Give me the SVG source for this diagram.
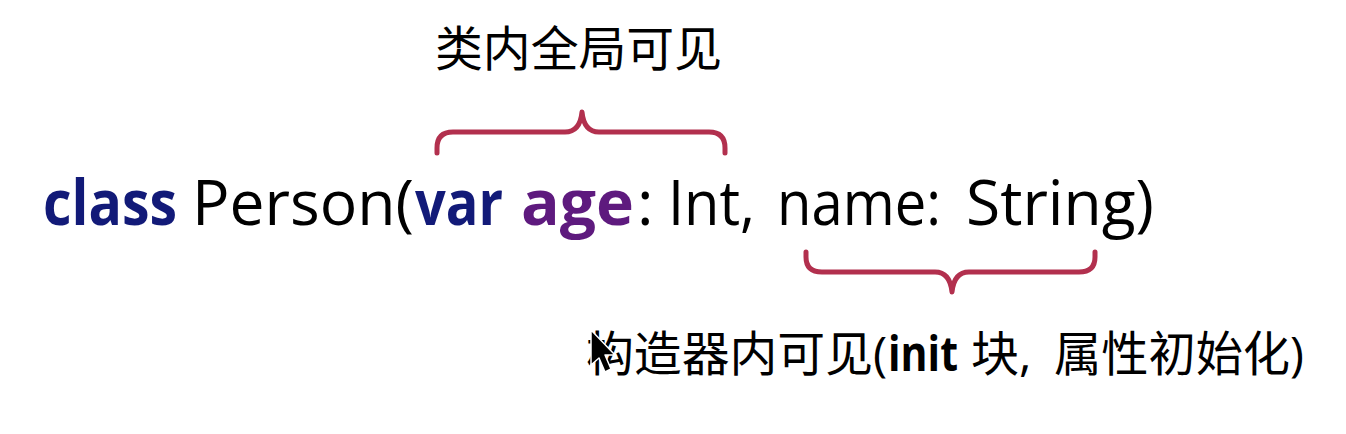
<svg xmlns="http://www.w3.org/2000/svg" width="1346" height="434" viewBox="0 0 1346 434">
<style>
.t{font-family:"Open Sans","Noto Sans CJK SC",sans-serif;fill:#000}
.code{font-size:63px}
.b{font-weight:bold}
.kw{fill:#121a78}
.id{fill:#5e1a7e}
.cjk{font-family:"Open Sans","Noto Sans CJK SC",sans-serif;font-size:48px;fill:#000}
.brace{fill:none;stroke:#b2304e;stroke-width:5;stroke-linecap:round;stroke-linejoin:round}
</style>
<rect width="1346" height="434" fill="#fff"/>
<g id="code">
<text class="t code b kw" x="43" y="225" textLength="134" lengthAdjust="spacingAndGlyphs">class</text>
<text class="t code" x="192" y="225" textLength="222" lengthAdjust="spacingAndGlyphs">Person(</text>
<text class="t code b kw" x="415" y="225" textLength="88" lengthAdjust="spacingAndGlyphs">var</text>
<text class="t code b id" x="521" y="225" textLength="113" lengthAdjust="spacingAndGlyphs">age</text>
<text class="t code" x="637" y="225">:</text>
<text class="t code" x="668" y="225" textLength="87" lengthAdjust="spacingAndGlyphs">Int,</text>
<text class="t code" x="777" y="225" textLength="164" lengthAdjust="spacingAndGlyphs">name:</text>
<text class="t code" x="966" y="225" textLength="188" lengthAdjust="spacingAndGlyphs">String)</text>
</g>
<g id="top-label">
<text class="cjk" x="435" y="66" textLength="287" lengthAdjust="spacingAndGlyphs">类内全局可见</text>
</g>
<g id="bottom-label">
<text class="cjk" x="586" y="371" textLength="287" lengthAdjust="spacingAndGlyphs">构造器内可见</text>
<text class="cjk" x="873" y="371">(</text>
<text class="cjk b" x="888" y="371" textLength="70" lengthAdjust="spacingAndGlyphs">init</text>
<text class="cjk" x="971" y="371">块,</text>
<text class="cjk" x="1054" y="371" textLength="250" lengthAdjust="spacingAndGlyphs">属性初始化)</text>
</g>
<g id="connectors">
<path id="brace-top" class="brace" d="M437,153 L437,148 Q437,132 453,132 L565,132 Q580,132 582,112 Q584,132 599,132 L709,132 Q725,132 725,148 L725,153"/>
<path id="brace-bottom" class="brace" d="M806,252 L806,257 Q806,272 822,272 L935,272 Q950,272 952,292 Q954,272 969,272 L1079,272 Q1095,272 1095,257 L1095,252"/>
</g>
<g id="cursor">
<path d="M591,330 L591,365 L599,358 L605,372 L611,369 L605,355 L615,355 Z" fill="#000" stroke="#fff" stroke-width="1.5" stroke-linejoin="round"/>
</g>
</svg>
